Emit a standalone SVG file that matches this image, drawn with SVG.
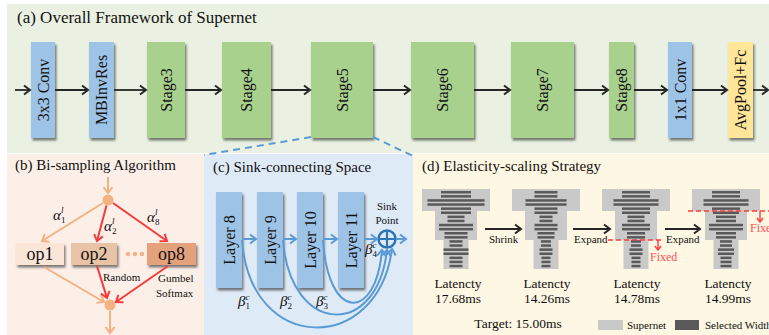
<svg xmlns="http://www.w3.org/2000/svg" width="769" height="335" viewBox="0 0 769 335">
<defs>
<filter id="sh" x="-30%" y="-10%" width="170%" height="130%"><feDropShadow dx="1.5" dy="2.5" stdDeviation="1" flood-color="#000" flood-opacity="0.5"/></filter>
<marker id="ak" markerUnits="userSpaceOnUse" markerWidth="12" markerHeight="12" refX="9" refY="6" orient="auto"><path d="M3,1.5 L9,6 L3,10.5" fill="none" stroke="#262626" stroke-width="2"/></marker>
<marker id="ao" markerUnits="userSpaceOnUse" markerWidth="12" markerHeight="12" refX="9" refY="6" orient="auto"><path d="M3,1.5 L9,6 L3,10.5" fill="none" stroke="#f4b183" stroke-width="2"/></marker>
<marker id="ar" markerUnits="userSpaceOnUse" markerWidth="12" markerHeight="12" refX="9" refY="6" orient="auto"><path d="M3,1.5 L9,6 L3,10.5" fill="none" stroke="#f23c3c" stroke-width="2"/></marker>
<marker id="ab" markerUnits="userSpaceOnUse" markerWidth="12" markerHeight="12" refX="9" refY="6" orient="auto"><path d="M3,1.5 L9,6 L3,10.5" fill="none" stroke="#5b9bd5" stroke-width="2"/></marker>
<marker id="af" markerUnits="userSpaceOnUse" markerWidth="8" markerHeight="8" refX="6" refY="4" orient="auto"><path d="M2,1 L6,4 L2,7" fill="none" stroke="#ff3b3b" stroke-width="1.4"/></marker>
<path id="sn" d="M-34,189 H34 V211 H21 V240 H12.5 V269 H-12.5 V240 H-21 V211 H-34 Z" fill="#c9c9c9"/>
</defs>
<style>
.t{font-family:"Liberation Serif","Times New Roman",serif;fill:#111}
.ttl{font-size:15px}
.bt{font-size:16px;text-anchor:middle}
.blue{fill:#9dc3e6}
.green{fill:#a9d18e}
.yel{fill:#ffe699}
.blk{filter:url(#sh)}
.ca{fill:none;stroke:#262626;stroke-width:1.8;marker-end:url(#ak)}
.co{fill:none;stroke:#f4b183;stroke-width:2;marker-end:url(#ao)}
.cr{fill:none;stroke:#f23c3c;stroke-width:2;marker-end:url(#ar)}
.cb{fill:none;stroke:#5b9bd5;stroke-width:2;marker-end:url(#ab)}
.dash{fill:none;stroke:#5b9bd5;stroke-width:2;stroke-dasharray:7,5}
.fx{fill:none;stroke:#ff3b3b;stroke-width:1.4;stroke-dasharray:5,3}
.bar{fill:#595959}
.lat{font-size:13.5px;text-anchor:middle}
.sm{font-size:11px}
.gr{font-style:italic;font-size:15px}
.gs{font-size:9px}
</style>

<!-- panel backgrounds -->
<rect x="7" y="4" width="762" height="149" fill="#eaf1e2"/>
<rect x="7" y="154" width="197" height="181" fill="#fcefe7"/>
<rect x="204" y="154" width="209" height="181" fill="#deeaf6"/>
<rect x="413" y="154" width="356" height="181" fill="#fdf7e3"/>

<text class="t" x="17" y="23" font-size="17">(a) Overall Framework of Supernet</text>
<text class="t ttl" x="15" y="170">(b) Bi-sampling Algorithm</text>
<text class="t ttl" x="213" y="172">(c) Sink-connecting Space</text>
<text class="t ttl" x="422" y="171">(d) Elasticity-scaling Strategy</text>

<!-- (a) blocks -->
<g id="conv3x3"><rect class="blue blk" x="31" y="42" width="24" height="96"/><text class="t bt" transform="translate(43,90) rotate(-90)" dy="0.35em">3x3 Conv</text></g>
<g id="mbinvres"><rect class="blue blk" x="89" y="42" width="25" height="96"/><text class="t bt" transform="translate(101.5,90) rotate(-90)" dy="0.35em">MBInvRes</text></g>
<g id="stage3"><rect class="green blk" x="147" y="42" width="38" height="96"/><text class="t bt" transform="translate(166,90) rotate(-90)" dy="0.35em">Stage3</text></g>
<g id="stage4"><rect class="green blk" x="222" y="42" width="49" height="96"/><text class="t bt" transform="translate(246.5,90) rotate(-90)" dy="0.35em">Stage4</text></g>
<g id="stage5"><rect class="green blk" x="311" y="42" width="62" height="96"/><text class="t bt" transform="translate(342,90) rotate(-90)" dy="0.35em">Stage5</text></g>
<g id="stage6"><rect class="green blk" x="411" y="42" width="63" height="96"/><text class="t bt" transform="translate(442.5,90) rotate(-90)" dy="0.35em">Stage6</text></g>
<g id="stage7"><rect class="green blk" x="511" y="42" width="63" height="96"/><text class="t bt" transform="translate(542.5,90) rotate(-90)" dy="0.35em">Stage7</text></g>
<g id="stage8"><rect class="green blk" x="609" y="42" width="25" height="96"/><text class="t bt" transform="translate(621.5,90) rotate(-90)" dy="0.35em">Stage8</text></g>
<g id="conv1x1"><rect class="blue blk" x="668" y="42" width="24" height="96"/><text class="t bt" transform="translate(680,90) rotate(-90)" dy="0.35em">1x1 Conv</text></g>
<g id="avgpool"><rect class="yel blk" x="728" y="42" width="25" height="96"/><text class="t bt" transform="translate(740.5,90) rotate(-90)" dy="0.35em">AvgPool+Fc</text></g>

<!-- (b) nodes -->
<g id="b-top"><circle cx="108" cy="200" r="5.5" fill="#f4b183"/></g>
<g id="op1"><rect class="blk" x="16" y="243" width="48" height="22" fill="#fbe5d6"/><text class="t" x="40" y="260" font-size="18" text-anchor="middle">op1</text></g>
<g id="op2"><rect class="blk" x="71" y="243" width="46" height="22" fill="#e9c3a6"/><text class="t" x="94" y="260" font-size="18" text-anchor="middle">op2</text></g>
<g id="dots"><circle cx="128" cy="254" r="2.2" fill="#f4b183"/><circle cx="135" cy="254" r="2.2" fill="#f4b183"/><circle cx="142" cy="254" r="2.2" fill="#f4b183"/></g>
<g id="op8"><rect class="blk" x="147" y="243" width="49" height="22" fill="#e3a27c"/><text class="t" x="171.5" y="260" font-size="18" text-anchor="middle">op8</text></g>
<g id="b-bottom"><circle cx="110" cy="305" r="5.5" fill="#f4b183"/></g>
<text class="t gr" x="53" y="220">α<tspan class="gs" dy="-7">l</tspan><tspan class="gs" dx="-2.5" dy="10" font-style="normal">1</tspan></text>
<text class="t gr" x="104" y="231">α<tspan class="gs" dy="-7">l</tspan><tspan class="gs" dx="-2.5" dy="10" font-style="normal">2</tspan></text>
<text class="t gr" x="147" y="222">α<tspan class="gs" dy="-7">l</tspan><tspan class="gs" dx="-2.5" dy="10" font-style="normal">8</tspan></text>
<text class="t sm" x="103" y="281" font-size="10.5">Random</text>
<text class="t sm" x="158" y="282" font-size="10.5">Gumbel</text>
<text class="t sm" x="156" y="297" font-size="10.5">Softmax</text>

<!-- (c) nodes -->
<g id="layer8"><rect class="blue blk" x="216" y="192" width="26" height="96"/><text class="t bt" transform="translate(229,240) rotate(-90)" dy="0.35em">Layer 8</text></g>
<g id="layer9"><rect class="blue blk" x="257" y="192" width="26" height="96"/><text class="t bt" transform="translate(270,240) rotate(-90)" dy="0.35em">Layer 9</text></g>
<g id="layer10"><rect class="blue blk" x="297" y="192" width="26" height="96"/><text class="t bt" transform="translate(310,240) rotate(-90)" dy="0.35em">Layer 10</text></g>
<g id="layer11"><rect class="blue blk" x="338" y="192" width="26" height="96"/><text class="t bt" transform="translate(351,240) rotate(-90)" dy="0.35em">Layer 11</text></g>
<g id="sink"><circle cx="387" cy="239" r="8.5" fill="none" stroke="#2e75b6" stroke-width="2.5"/><path d="M378.5,239 H395.5 M387,230.5 V247.5" stroke="#2e75b6" stroke-width="2.2"/>
<text class="t sm" x="387" y="210" text-anchor="middle">Sink</text><text class="t sm" x="387" y="224" text-anchor="middle">Point</text></g>
<text class="t gr" x="238" y="306" font-size="13">β<tspan class="gs" dy="-6">c</tspan><tspan class="gs" dx="-4" dy="9" font-style="normal">1</tspan></text>
<text class="t gr" x="280" y="306" font-size="13">β<tspan class="gs" dy="-6">c</tspan><tspan class="gs" dx="-4" dy="9" font-style="normal">2</tspan></text>
<text class="t gr" x="316" y="306" font-size="13">β<tspan class="gs" dy="-6">c</tspan><tspan class="gs" dx="-4" dy="9" font-style="normal">3</tspan></text>
<text class="t gr" x="365" y="254" font-size="13">β<tspan class="gs" dy="-6">c</tspan><tspan class="gs" dx="-4" dy="9" font-style="normal">4</tspan></text>

<!-- (d) stacks -->
<g id="stack1">
<use href="#sn" x="456"/>
<g class="bar">
<rect x="441" y="191" width="30" height="2.5"/><rect x="441" y="195.1" width="30" height="2.5"/>
<rect x="427.5" y="199.2" width="57" height="2.5"/><rect x="427.5" y="203.3" width="57" height="2.5"/>
<rect x="441" y="207.4" width="30" height="2.5"/><rect x="441" y="211.5" width="30" height="2.5"/>
<rect x="447.5" y="215.6" width="17" height="2.5"/><rect x="447.5" y="219.7" width="17" height="2.5"/>
<rect x="439" y="223.8" width="34" height="2.5"/><rect x="439" y="227.9" width="34" height="2.5"/>
<rect x="444.5" y="232" width="23" height="2.5"/><rect x="444.5" y="236.1" width="23" height="2.5"/>
<rect x="449.5" y="240.2" width="13" height="2.5"/><rect x="449.5" y="244.3" width="13" height="2.5"/>
<rect x="443.5" y="248.4" width="25" height="2.5"/><rect x="443.5" y="252.5" width="25" height="2.5"/>
<rect x="449.5" y="256.6" width="13" height="2.5"/><rect x="449.5" y="260.7" width="13" height="2.5"/><rect x="449.5" y="264.8" width="13" height="2.5"/>
</g>
<text class="t lat" x="458" y="288">Latencty</text><text class="t lat" x="458" y="303">17.68ms</text>
</g>
<g id="stack2">
<use href="#sn" x="546"/>
<g class="bar">
<rect x="534.5" y="191" width="23" height="2.5"/><rect x="534.5" y="195.1" width="23" height="2.5"/>
<rect x="525.5" y="199.2" width="41" height="2.5"/><rect x="525.5" y="203.3" width="41" height="2.5"/>
<rect x="534.5" y="207.4" width="23" height="2.5"/><rect x="534.5" y="211.5" width="23" height="2.5"/>
<rect x="539.5" y="215.6" width="13" height="2.5"/><rect x="539.5" y="219.7" width="13" height="2.5"/>
<rect x="534.5" y="223.8" width="23" height="2.5"/><rect x="534.5" y="227.9" width="23" height="2.5"/>
<rect x="537.5" y="232" width="17" height="2.5"/><rect x="537.5" y="236.1" width="17" height="2.5"/>
<rect x="541" y="240.2" width="10" height="2.5"/><rect x="541" y="244.3" width="10" height="2.5"/>
<rect x="539.5" y="248.4" width="13" height="2.5"/><rect x="539.5" y="252.5" width="13" height="2.5"/>
<rect x="541.5" y="256.6" width="9" height="2.5"/><rect x="541.5" y="260.7" width="9" height="2.5"/><rect x="541.5" y="264.8" width="9" height="2.5"/>
</g>
<text class="t lat" x="547" y="288">Latencty</text><text class="t lat" x="547" y="303">14.26ms</text>
</g>
<g id="stack3">
<use href="#sn" x="636"/>
<g class="bar">
<rect x="622" y="191" width="28" height="2.5"/><rect x="622" y="195.1" width="28" height="2.5"/>
<rect x="613.5" y="199.2" width="45" height="2.5"/><rect x="613.5" y="203.3" width="45" height="2.5"/>
<rect x="622" y="207.4" width="28" height="2.5"/><rect x="622" y="211.5" width="28" height="2.5"/>
<rect x="627.5" y="215.6" width="17" height="2.5"/><rect x="627.5" y="219.7" width="17" height="2.5"/>
<rect x="622" y="223.8" width="28" height="2.5"/><rect x="622" y="227.9" width="28" height="2.5"/>
<rect x="627" y="232" width="18" height="2.5"/><rect x="627" y="236.1" width="18" height="2.5"/>
<rect x="631" y="240.2" width="10" height="2.5"/><rect x="631" y="244.3" width="10" height="2.5"/>
<rect x="629.5" y="248.4" width="13" height="2.5"/><rect x="629.5" y="252.5" width="13" height="2.5"/>
<rect x="631.5" y="256.6" width="9" height="2.5"/><rect x="631.5" y="260.7" width="9" height="2.5"/><rect x="631.5" y="264.8" width="9" height="2.5"/>
</g>
<text class="t lat" x="637" y="288">Latencty</text><text class="t lat" x="637" y="303">14.78ms</text>
</g>
<g id="stack4">
<use href="#sn" x="726"/>
<g class="bar">
<rect x="712" y="191" width="28" height="2.5"/><rect x="712" y="195.1" width="28" height="2.5"/>
<rect x="703.5" y="199.2" width="45" height="2.5"/><rect x="703.5" y="203.3" width="45" height="2.5"/>
<rect x="712" y="207.4" width="28" height="2.5"/><rect x="713" y="211.5" width="26" height="2.5"/>
<rect x="716" y="215.6" width="20" height="2.5"/><rect x="716" y="219.7" width="20" height="2.5"/>
<rect x="709" y="223.8" width="34" height="2.5"/><rect x="709" y="227.9" width="34" height="2.5"/>
<rect x="716" y="232" width="20" height="2.5"/><rect x="716" y="236.1" width="20" height="2.5"/>
<rect x="720" y="240.2" width="12" height="2.5"/><rect x="720" y="244.3" width="12" height="2.5"/>
<rect x="718" y="248.4" width="16" height="2.5"/><rect x="718" y="252.5" width="16" height="2.5"/>
<rect x="720.5" y="256.6" width="11" height="2.5"/><rect x="720.5" y="260.7" width="11" height="2.5"/><rect x="720.5" y="264.8" width="11" height="2.5"/>
</g>
<text class="t lat" x="728" y="288">Latencty</text><text class="t lat" x="728" y="303">14.99ms</text>
</g>
<text class="t sm" x="489" y="243">Shrink</text>
<text class="t sm" x="574" y="243">Expand</text>
<text class="t sm" x="666" y="243">Expand</text>
<text class="t" x="650" y="261" font-size="12" style="fill:#ff5050">Fixed</text>
<text class="t" x="750" y="232" font-size="12" style="fill:#ff5050">Fixed</text>
<text class="t lat" x="518" y="328" text-anchor="middle">Target: 15.00ms</text>
<g id="legend">
<rect x="598" y="320" width="25" height="10" fill="#c9c9c9"/><text class="t sm" x="627" y="329">Supernet</text>
<rect x="675" y="320" width="24" height="10" fill="#595959"/><text class="t sm" x="705" y="329">Selected Width</text>
</g>

<!-- connectors -->
<g id="connectors">
<path class="ca" d="M15,90 H30"/>
<path class="ca" d="M55,90 H88"/>
<path class="ca" d="M114,90 H146"/>
<path class="ca" d="M185,90 H221"/>
<path class="ca" d="M271,90 H310"/>
<path class="ca" d="M373,90 H410"/>
<path class="ca" d="M474,90 H510"/>
<path class="ca" d="M574,90 H608"/>
<path class="ca" d="M634,90 H667"/>
<path class="ca" d="M692,90 H727"/>
<path class="ca" d="M753,90 H768"/>
<path class="dash" d="M311,137 L204,155"/>
<path class="dash" d="M373,137 L413,156"/>
<path class="co" d="M108,177 V193"/>
<path class="co" d="M103,203 L42,241"/>
<path class="cr" d="M106.5,205.5 L97,241"/>
<path class="cr" d="M113,203 L167,241"/>
<path class="co" d="M44,267 L104,302"/>
<path class="cr" d="M97,266 L107,298"/>
<path class="cr" d="M168,266 L116,302"/>
<path class="co" d="M110,311 V333"/>
<path class="cb" d="M242,239 H256"/>
<path class="cb" d="M283,239 H296"/>
<path class="cb" d="M323,239 H337"/>
<path class="cb" d="M364,239 H377"/>
<path class="cb" d="M396,239 H406"/>
<path class="cb" d="M242,240 C250,355 378,355 392,249"/>
<path class="cb" d="M283,240 C290,335 377,340 387,250"/>
<path class="cb" d="M323,240 C328,322 376,322 382,250"/>
<path class="ca" stroke-width="2" d="M485,229 H521"/>
<path class="ca" stroke-width="2" d="M573,229 H610"/>
<path class="ca" stroke-width="2" d="M665,229 H700"/>
<path class="fx" d="M608,240 H663"/>
<path class="fx" d="M688,211 H769"/>
<path fill="none" stroke="#ff3b3b" stroke-width="1.4" marker-end="url(#af)" d="M658,240 V250"/>
<path fill="none" stroke="#ff3b3b" stroke-width="1.4" marker-end="url(#af)" d="M760,211 V222"/>
</g>
</svg>
